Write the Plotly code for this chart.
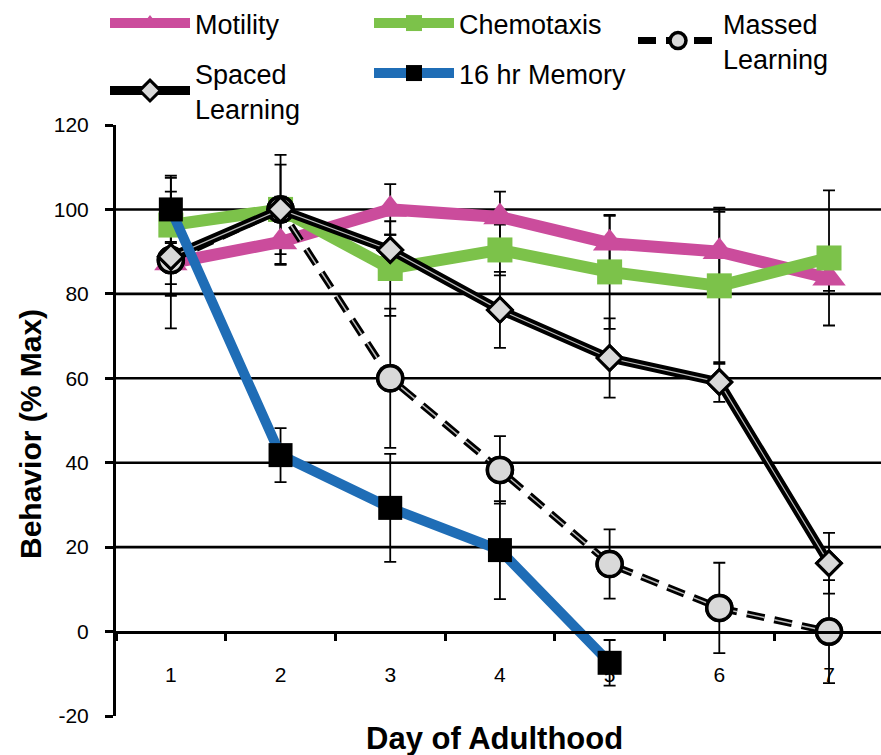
import plotly.graph_objects as go

# ---------------- data ----------------
days = ["1", "2", "3", "4", "5", "6", "7"]
motility = [87.3, 92.3, 100.0, 98.2, 92.0, 90.0, 83.7]
motility_err = [5.0, 5.4, 6.0, 6.0, 6.5, 9.4, 3.0]
chemotaxis = [96.3, 100.0, 86.0, 90.4, 85.2, 81.9, 88.5]
chemotaxis_err = [11.2, 10.6, 11.2, 6.0, 13.5, 18.5, 16.0]
massed = [88.0, 100.0, 60.0, 38.3, 16.0, 5.6, 0.0]
massed_err = [16.2, 12.9, 16.5, 8.0, 8.2, 10.7, 12.2]
spaced = [88.8, 100.0, 90.4, 76.2, 64.8, 59.1, 16.2]
spaced_err = [9.3, 3.0, 3.6, 9.0, 9.4, 4.7, 7.2]
memory_days = ["1", "2", "3", "4", "5"]
memory = [100.0, 41.8, 29.3, 19.3, -7.4]
memory_err = [8.0, 6.4, 12.8, 11.6, 5.4]
y_ticks = [-20, 0, 20, 40, 60, 80, 100, 120]
y_tick_labels = ["-20", "0", "20", "40", "60", "80", "100", "120"]
grid_vals = [20, 40, 60, 80, 100]
y_range = [-20, 120]

FONT = "Liberation Sans, Arial, sans-serif"
PINK = "#CB4C9C"
GREEN = "#7CC24A"
BLUE = "#1F6DB6"
GRAYFILL = "#D9D9D9"

fig = go.Figure()

# error bars first (drawn underneath everything)
for xs, ys, es in [(days, motility, motility_err), (days, chemotaxis, chemotaxis_err),
                   (days, massed, massed_err), (days, spaced, spaced_err),
                   (memory_days, memory, memory_err)]:
    fig.add_trace(go.Scatter(
        x=xs, y=ys, mode="markers", marker=dict(size=1, opacity=0),
        error_y=dict(type="data", array=es, visible=True, color="black",
                     thickness=1.8, width=6),
        showlegend=False, hoverinfo="skip"))

# Motility
fig.add_trace(go.Scatter(
    x=days, y=motility, name="Motility", mode="lines+markers", legend="legend",
    line=dict(color=PINK, width=12),
    marker=dict(symbol="triangle-up", size=29, color=PINK)))

# Chemotaxis
fig.add_trace(go.Scatter(
    x=days, y=chemotaxis, name="Chemotaxis", mode="lines+markers", legend="legend",
    line=dict(color=GREEN, width=12),
    marker=dict(symbol="square", size=25, color=GREEN)))

# Massed learning (dashed compound line)
fig.add_trace(go.Scatter(
    x=days, y=massed, name="Massed<br>Learning", mode="lines+markers", legend="legend",
    line=dict(color="black", width=7, dash="18px,10px"),
    marker=dict(symbol="circle", size=25, color=GRAYFILL,
                line=dict(color="black", width=3.5))))
fig.add_trace(go.Scatter(
    x=days, y=massed, mode="lines", showlegend=False, hoverinfo="skip",
    line=dict(color="#BDBDBD", width=1.5, dash="18px,10px")))
fig.add_trace(go.Scatter(
    x=days, y=massed, mode="markers", showlegend=False, hoverinfo="skip",
    marker=dict(symbol="circle", size=25, color=GRAYFILL,
                line=dict(color="black", width=3.5))))

# Spaced learning (compound solid line)
fig.add_trace(go.Scatter(
    x=days, y=spaced, name="Spaced<br>Learning", mode="lines+markers", legend="legend2",
    line=dict(color="black", width=9),
    marker=dict(symbol="diamond", size=19, color=GRAYFILL,
                line=dict(color="black", width=3))))
fig.add_trace(go.Scatter(
    x=days, y=spaced, mode="lines", showlegend=False, hoverinfo="skip",
    line=dict(color="#BDBDBD", width=1.2)))
fig.add_trace(go.Scatter(
    x=days, y=spaced, mode="markers", showlegend=False, hoverinfo="skip",
    marker=dict(symbol="diamond", size=19, color=GRAYFILL,
                line=dict(color="black", width=3))))

# 16 hr memory
fig.add_trace(go.Scatter(
    x=memory_days, y=memory, name="16 hr Memory", mode="lines+markers", legend="legend2",
    line=dict(color=BLUE, width=10),
    marker=dict(symbol="square", size=24, color="black")))

# horizontal grid lines
for g in grid_vals:
    fig.add_shape(type="line", xref="paper", x0=0, x1=1, yref="y", y0=g, y1=g,
                  line=dict(color="black", width=2.6), layer="below")

zero_pos = (0 - y_range[0]) / (y_range[1] - y_range[0])

PL, PT, PB, PR = 116, 125, 716, 881
PW, PH = PR - PL, PB - PT


def px_x(px):
    return (px - PL) / PW


def px_y(py):
    return (PB - py) / PH


legend_common = dict(orientation="h", xanchor="left", yanchor="top",
                     font=dict(size=27, family=FONT), entrywidth=169,
                     itemwidth=80, traceorder="normal", bgcolor="rgba(0,0,0,0)")

fig.update_layout(
    width=881, height=755,
    margin=dict(l=PL, r=881 - PR, t=PT, b=755 - PB, autoexpand=False),
    paper_bgcolor="white", plot_bgcolor="white",
    font=dict(family=FONT, size=21, color="black"),
    showlegend=True,
    legend=dict(x=px_x(105), y=px_y(-1), **legend_common),
    legend2=dict(x=px_x(105), y=px_y(49), **legend_common),
    xaxis=dict(type="category", categoryorder="array", categoryarray=days,
               range=[-0.5, 6.474], anchor="free", position=zero_pos,
               showline=True, linecolor="black", linewidth=2.6,
               ticks="outside", tickson="boundaries", ticklen=8, tickwidth=2.5,
               tickcolor="black", showgrid=False, zeroline=False,
               ticklabelstandoff=23, tickfont=dict(size=21, family=FONT)),
    yaxis=dict(range=y_range, tickvals=y_ticks, ticktext=y_tick_labels,
               showgrid=False, zeroline=False,
               showline=True, linecolor="black", linewidth=3,
               ticks="outside", ticklen=8, tickwidth=2.5, tickcolor="black",
               ticklabelstandoff=12, tickfont=dict(size=21, family=FONT)),
    annotations=[
        dict(text="<b>Behavior (% Max)</b>", textangle=-90, xref="paper", yref="paper",
             x=px_x(30), y=px_y(434), xanchor="center", yanchor="middle",
             showarrow=False, font=dict(size=30, family=FONT)),
        dict(text="<b>Day of Adulthood</b>", xref="paper", yref="paper",
             x=px_x(494), y=px_y(738), xanchor="center", yanchor="middle",
             showarrow=False, font=dict(size=31, family=FONT)),
    ],
)

fig.write_html("out.html", config={"displayModeBar": False},
               post_script="document.body.style.margin='0px';document.body.style.padding='0px';")
